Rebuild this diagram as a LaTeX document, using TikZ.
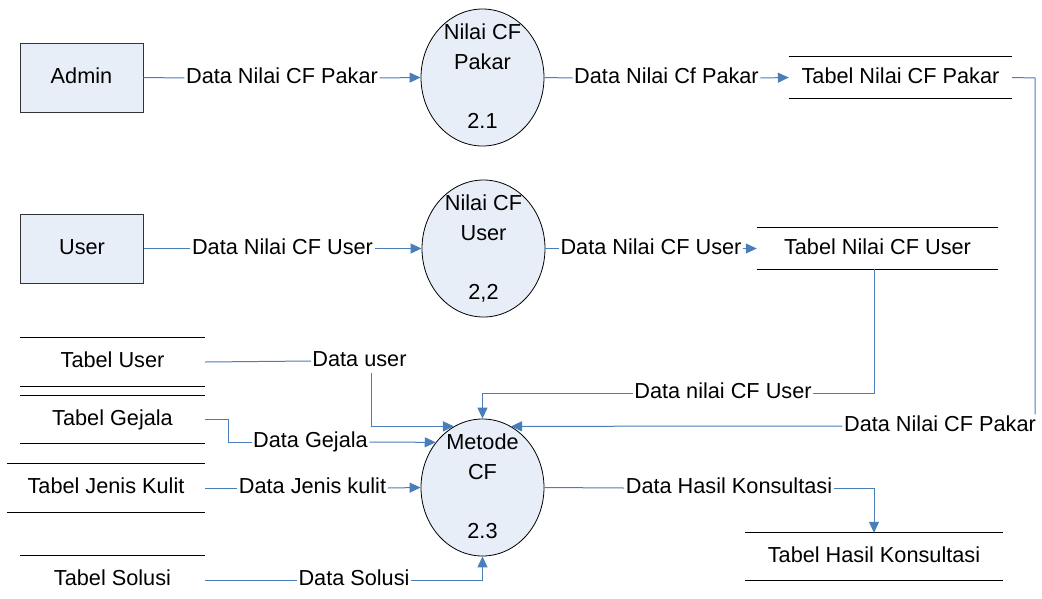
\documentclass[tikz,border=0pt]{standalone}
\usepackage{fontspec}
\setmainfont{Liberation Sans}
\usetikzlibrary{arrows.meta,shapes.geometric}
\definecolor{conn}{RGB}{74,126,187}
\definecolor{shapefill}{RGB}{232,238,247}
\begin{document}
\begin{tikzpicture}[x=1pt,y=-1pt,
  every node/.style={font=\fontsize{21.7pt}{26pt}\selectfont,text height=15.6pt,text depth=4.5pt},
  entity/.style={draw=black!80,line width=1pt,fill=shapefill,minimum width=123pt,minimum height=69pt,inner sep=0pt},
  proc/.style={ellipse,draw=black,line width=0.8pt,fill=shapefill,minimum width=123pt,minimum height=137pt,inner sep=0pt},
  store/.style={minimum height=47pt,inner sep=0pt},
  flow/.style={inner sep=1.5pt},
  line/.style={draw=conn,line width=1pt},
  arr/.style={line,-{Triangle[length=11pt,width=10pt]}},
  storeline/.style={draw=black,line width=1pt}]
\useasboundingbox (0,0) rectangle (1042,598);

% external entities
\node[entity] (admin) at (81.5,77.5) {Admin};
\node[entity] (user) at (82,248.5) {User};

% processes
\node[proc] (p1) at (482.5,77.5) {};
\node (p1a) at (482.5,33.5) {Nilai CF};
\node (p1b) at (482.5,63.5) {Pakar};
\node (p1c) at (482.5,122.5) {2.1};

\node[proc] (p2) at (483.5,248.5) {};
\node (p2a) at (483.5,204.5) {Nilai CF};
\node (p2b) at (483.5,234.5) {User};
\node (p2c) at (483.5,293.5) {2,2};

\node[proc] (m) at (482.5,487.5) {};
\node (ma) at (482.5,443.5) {Metode};
\node (mb) at (482.5,473.5) {CF};
\node (mc) at (482.5,532.5) {2.3};

% data stores
\node[store,minimum width=223pt,minimum height=41pt] (sp) at (900.5,77.5) {Tabel Nilai CF Pakar};
\node[store,minimum width=241pt,minimum height=41pt] (su) at (877.5,248.5) {Tabel Nilai CF User};
\node[store,minimum width=185pt,minimum height=48pt] (tu) at (112.5,362) {Tabel User};
\node[store,minimum width=185pt,minimum height=47pt] (tg) at (112.5,419.5) {Tabel Gejala};
\node[store,minimum width=198pt,minimum height=48pt] (tj) at (106,488) {Tabel Jenis Kulit};
\node[store,minimum width=185pt,minimum height=48pt] (ts) at (112.5,580) {Tabel Solusi};
\node[store,minimum width=258pt,minimum height=47pt] (th) at (874,556.5) {Tabel Hasil Konsultasi};

\foreach \s in {sp,su,tu,tg,tj,th}{
  \draw[storeline] (\s.north west) -- (\s.north east) (\s.south west) -- (\s.south east);
}
\draw[storeline] (ts.north west) -- (ts.north east);

% flow labels
\node[flow] (l1) at (282,78) {Data Nilai CF Pakar};
\node[flow] (l2) at (666.5,78) {Data Nilai Cf Pakar};
\node[flow] (l3) at (940,426) {Data Nilai CF Pakar};
\node[flow] (l4) at (723,393) {Data nilai CF User};
\node[flow] (l5) at (282.5,248.5) {Data Nilai CF User};
\node[flow] (l6) at (651,248.5) {Data Nilai CF User};
\node[flow] (dul) at (359.5,361) {Data user};
\node[flow] (dg) at (310.5,442) {Data Gejala};
\node[flow] (dj) at (312.5,488) {Data Jenis kulit};
\node[flow] (ds) at (354,580) {Data Solusi};
\node[flow] (dh) at (729,488) {Data Hasil Konsultasi};

% connectors
\draw[line] (admin.east) -- (l1.west);
\draw[arr] (l1.east) -- (p1.west);
\draw[line] (p1.east) -- (l2.west);
\draw[arr] (l2.east) -- (sp.west);
\coordinate (c3) at (1035,78);
\draw[line] (sp.east) -- (c3) -- (c3 |- l3.north);
\draw[arr] (l3.west) -- (m.65);

\draw[line] (user.east) -- (l5.west);
\draw[arr] (l5.east) -- (p2.west);
\draw[line] (p2.east) -- (l6.west);
\draw[arr] (l6.east) -- (su.west);
\draw[line] ([xshift=-3.5pt]su.south) |- (l4.east);
\draw[arr] (l4.west) -| (m.north);

\draw[line] (tu.east) -- (dul.west);
\draw[arr] ([xshift=12pt]dul.south) |- (m.115);
\draw[line] (tg.east) -- ++(23,0) |- (dg.west);
\draw[arr] (dg.east) -- (m.136);
\draw[line] (tj.east) -- (dj.west);
\draw[arr] (dj.east) -- (m.west);
\draw[line] (ts.east) -- (ds.west);
\draw[arr] (ds.east) -| (m.south);
\draw[line] (m.east) -- (dh.west);
\draw[arr] (dh.east) -| (th.north);
\end{tikzpicture}
\end{document}
